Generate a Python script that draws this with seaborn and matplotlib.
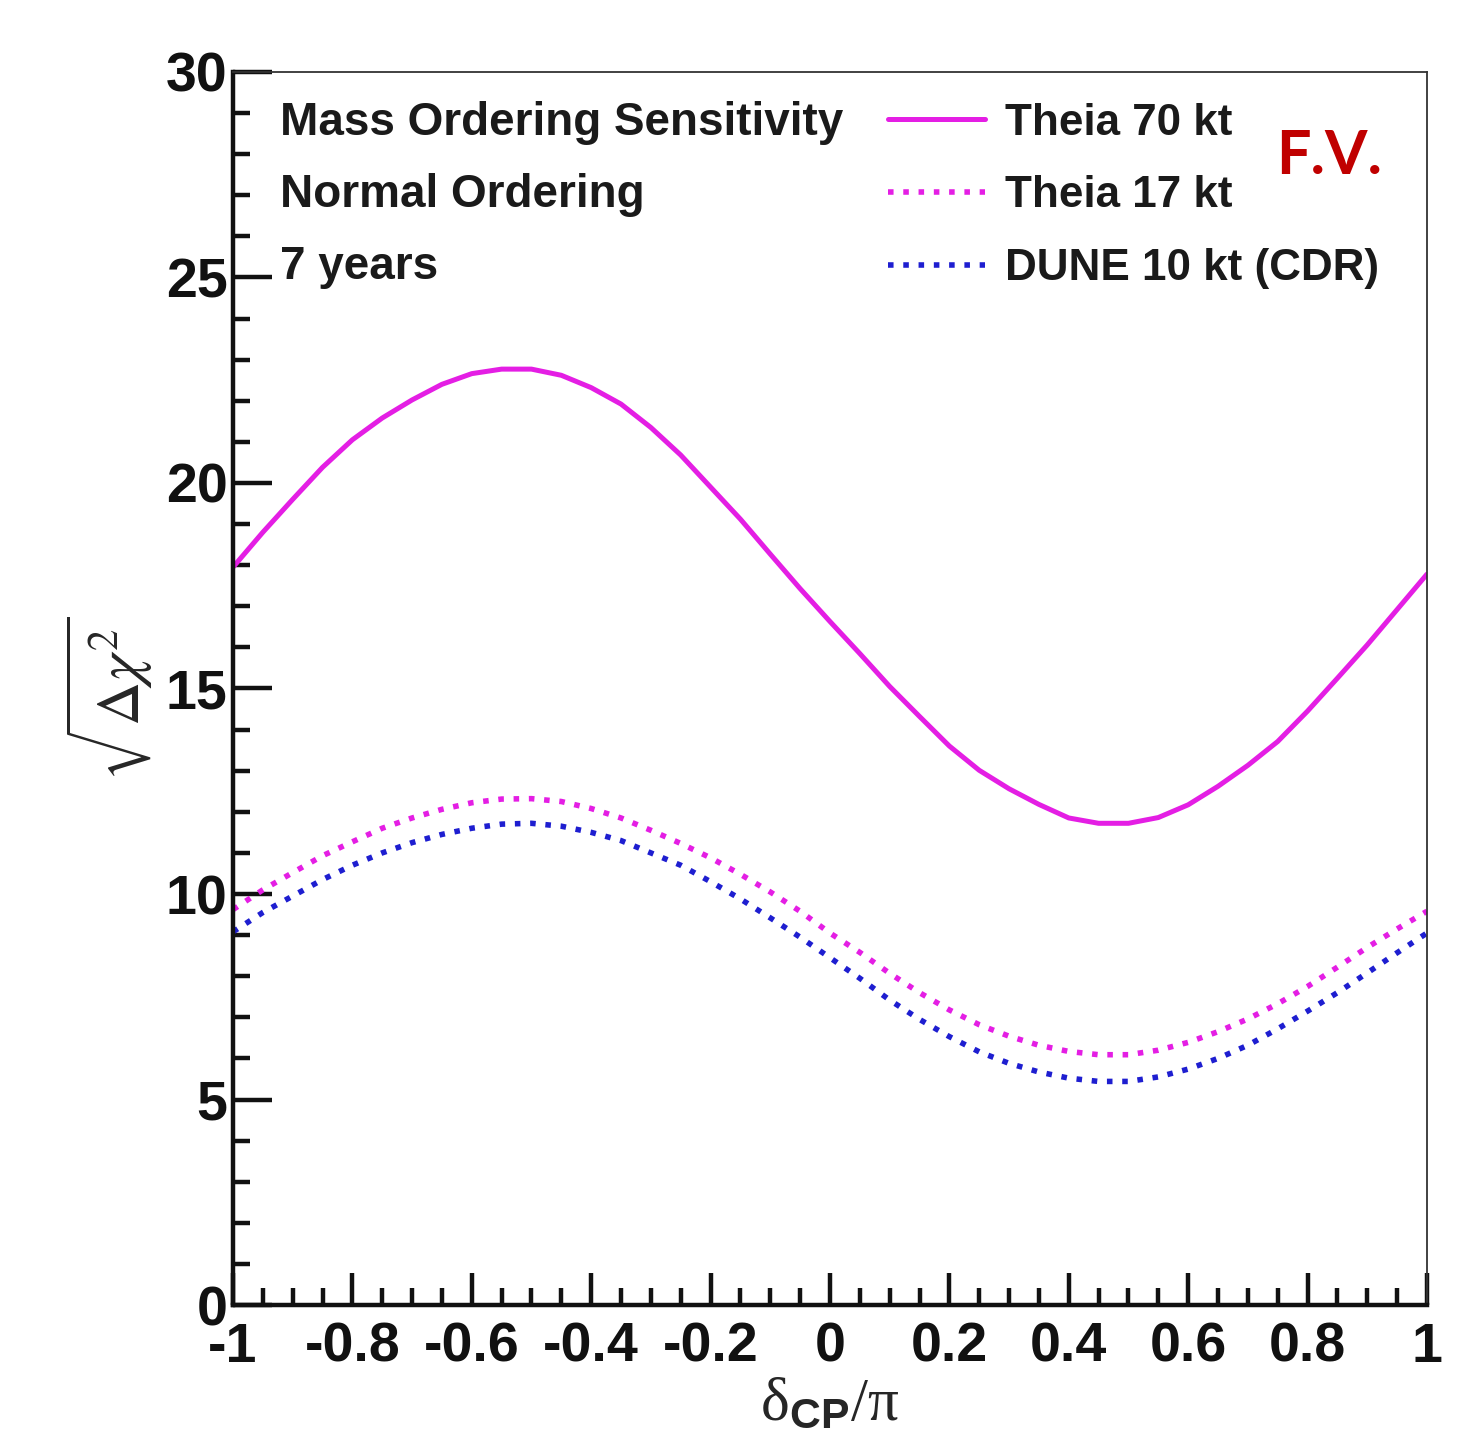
import numpy as np
import pandas as pd
import matplotlib
matplotlib.use("Agg")
import matplotlib.pyplot as plt
import seaborn as sns
from matplotlib.ticker import MultipleLocator

# ---- data ----
delta_cp = [-1.00, -0.95, -0.90, -0.85, -0.80, -0.75, -0.70, -0.65, -0.60, -0.55,
            -0.50, -0.45, -0.40, -0.35, -0.30, -0.25, -0.20, -0.15, -0.10, -0.05,
            0.00, 0.05, 0.10, 0.15, 0.20, 0.25, 0.30, 0.35, 0.40, 0.45,
            0.50, 0.55, 0.60, 0.65, 0.70, 0.75, 0.80, 0.85, 0.90, 0.95, 1.00]
theia70 = [17.95, 18.80, 19.60, 20.38, 21.05, 21.58, 22.02, 22.40, 22.66, 22.77,
           22.77, 22.62, 22.32, 21.92, 21.35, 20.68, 19.90, 19.12, 18.27, 17.43,
           16.63, 15.85, 15.05, 14.32, 13.60, 13.01, 12.56, 12.18, 11.85, 11.72,
           11.72, 11.86, 12.17, 12.62, 13.13, 13.71, 14.45, 15.25, 16.06, 16.92, 17.78]
theia17 = [9.62, 10.10, 10.52, 10.93, 11.27, 11.60, 11.85, 12.06, 12.22, 12.31,
           12.32, 12.25, 12.08, 11.85, 11.55, 11.23, 10.88, 10.48, 10.05, 9.58,
           9.05, 8.58, 8.07, 7.60, 7.18, 6.82, 6.54, 6.32, 6.17, 6.09,
           6.09, 6.20, 6.39, 6.65, 6.96, 7.33, 7.75, 8.22, 8.70, 9.15, 9.58]
dune10 = [9.08, 9.55, 9.95, 10.35, 10.70, 11.00, 11.25, 11.45, 11.60, 11.70,
          11.72, 11.65, 11.50, 11.30, 11.00, 10.70, 10.30, 9.88, 9.42, 8.95,
          8.45, 7.95, 7.42, 6.95, 6.53, 6.16, 5.88, 5.67, 5.52, 5.44,
          5.44, 5.55, 5.74, 6.00, 6.32, 6.72, 7.15, 7.60, 8.08, 8.57, 9.05]
series_names = ["Theia 70 kt", "Theia 17 kt", "DUNE 10 kt (CDR)"]
x_ticks = [-1, -0.8, -0.6, -0.4, -0.2, 0, 0.2, 0.4, 0.6, 0.8, 1]
x_ticklabels = ["-1", "-0.8", "-0.6", "-0.4", "-0.2", "0", "0.2", "0.4", "0.6", "0.8", "1"]
y_ticks = [0, 5, 10, 15, 20, 25, 30]
info_lines = ["Mass Ordering Sensitivity", "Normal Ordering", "7 years"]

sns.set_theme(style="ticks")
plt.rcParams["font.family"] = ["Liberation Sans", "DejaVu Sans"]
plt.rcParams["mathtext.fontset"] = "custom"
plt.rcParams["mathtext.rm"] = "Liberation Serif"
plt.rcParams["mathtext.it"] = "Liberation Serif:italic"
plt.rcParams["mathtext.bf"] = "Liberation Sans:bold"
plt.rcParams["mathtext.sf"] = "Liberation Sans"

n = len(delta_cp)
df = pd.DataFrame({
    "x": delta_cp * 3,
    "y": theia70 + theia17 + dune10,
    "series": [series_names[0]] * n + [series_names[1]] * n + [series_names[2]] * n,
})

fig = plt.figure(figsize=(14.81, 14.39), dpi=100)
ax = fig.add_axes([0.1573, 0.0931, 0.8062, 0.8569])

colors = {"Theia 70 kt": "#E41EE4", "Theia 17 kt": "#E41EE4", "DUNE 10 kt (CDR)": "#1E1ED0"}
styles = {"Theia 70 kt": "-", "Theia 17 kt": (0, (1, 1.75)), "DUNE 10 kt (CDR)": (0, (1, 1.75))}
widths = {"Theia 70 kt": 3.6, "Theia 17 kt": 4.0, "DUNE 10 kt (CDR)": 4.0}
for name in series_names:
    sub = df[df["series"] == name]
    sns.lineplot(data=sub, x="x", y="y", ax=ax, color=colors[name], label=name,
                 linewidth=widths[name], linestyle=styles[name], estimator=None, sort=False)
for ln in ax.get_lines():
    ln.set_dash_capstyle("butt")
    ln.set_solid_capstyle("round")
    ln.set_solid_joinstyle("round")

ax.set_xlim(-1, 1)
ax.set_ylim(0, 30)
ax.set_xticks(x_ticks)
ax.set_xticklabels(x_ticklabels)
ax.set_yticks(y_ticks)
ax.xaxis.set_minor_locator(MultipleLocator(0.05))
ax.yaxis.set_minor_locator(MultipleLocator(1))
ax.tick_params(axis="both", which="both", direction="in", top=False, right=False,
               colors="#111111", width=3.2)
ax.tick_params(axis="both", which="major", labelsize=40)
ax.tick_params(axis="y", which="major", length=28, pad=4)
ax.tick_params(axis="x", which="major", length=23, pad=12)
ax.tick_params(axis="both", which="minor", length=12)
for lab in ax.get_xticklabels() + ax.get_yticklabels():
    lab.set_fontweight("bold")

for side in ["left", "bottom"]:
    ax.spines[side].set_linewidth(3.2)
    ax.spines[side].set_color("#111111")
for side in ["top", "right"]:
    ax.spines[side].set_linewidth(1.3)
    ax.spines[side].set_color("#333333")

ax.set_xlabel(r"$\mathrm{\delta}_{\mathbf{CP}}/\mathrm{\pi}$", fontsize=44)
ax.xaxis.set_label_coords(0.5, -0.057)
ax.set_ylabel(r"$\sqrt{\Delta\chi^{2}}$", fontsize=44, math_fontfamily="stix")
ax.yaxis.set_label_coords(-0.065, 0.492)

for i, t in enumerate(info_lines):
    ax.text(0.039, 0.9586 - i * 0.0585, t, transform=ax.transAxes, fontsize=33,
            fontweight="bold", va="center", ha="left", color="#1a1a1a")

leg = ax.legend(loc="upper left", bbox_to_anchor=(0.5486, 0.975), frameon=False,
                fontsize=31.7, handlelength=2.2, handletextpad=0.45, labelspacing=0.72,
                borderpad=0, borderaxespad=0)
for txt in leg.get_texts():
    txt.set_fontweight("bold")
    txt.set_color("#1a1a1a")

fig.text(1329 / 1481, 1 - 156 / 1439, "F.V.", fontsize=44, fontweight="bold",
         color="#C00000", ha="center", va="center", family=["Lato", "DejaVu Sans"])

fig.savefig("out.png", dpi=100, facecolor="white")
